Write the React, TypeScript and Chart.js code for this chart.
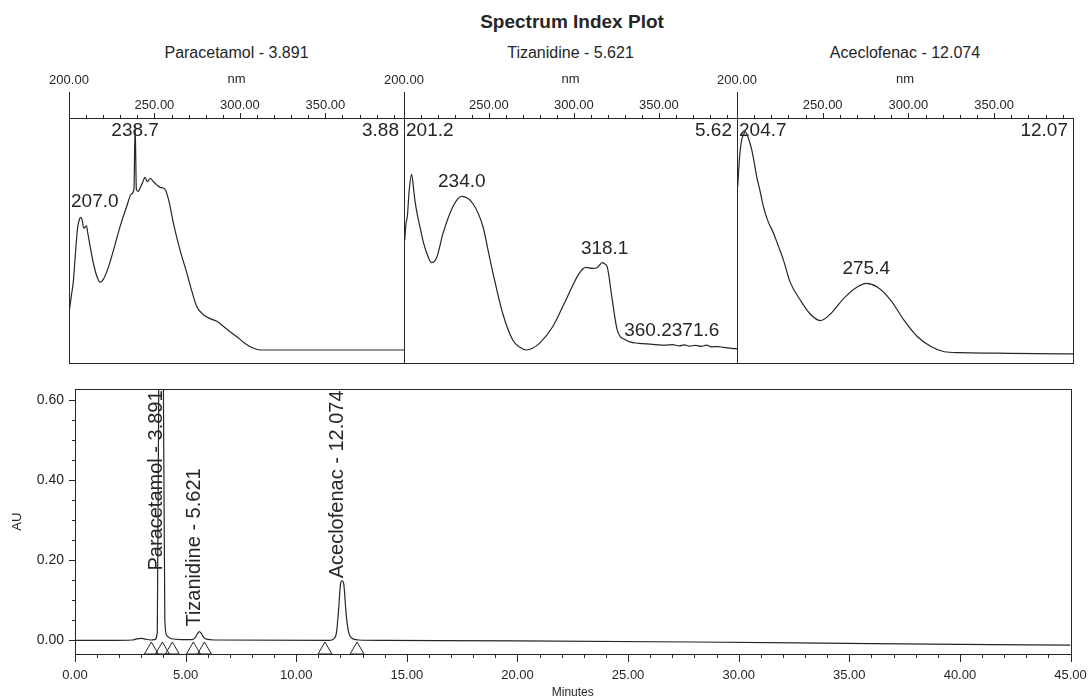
import React, { useEffect, useRef } from 'react';
import { Chart, registerables } from 'chart.js';

Chart.register(...registerables);

const INK = '#262626';
const FONT = '"Liberation Sans", Arial, Helvetica, sans-serif';
Chart.defaults.font.family = FONT;
Chart.defaults.color = INK;

// ---------------- Spectrum data (nm, relative absorbance) ----------------
const paraNm = [200.3, 201.5, 202.5, 203.8, 205.0, 206.3, 207.0, 207.8, 208.6, 209.4, 210.2, 211.0, 212.5, 214.5, 216.5, 218.2, 220.0, 222.5, 226.0, 230.0, 233.8, 236.5, 238.0, 238.7, 239.4, 240.3, 242.0, 243.5, 244.5, 245.9, 247.5, 249.4, 251.4, 253.3, 256.2, 258.5, 261.1, 265.0, 269.0, 272.0, 274.8, 279.0, 283.0, 286.5, 292.0, 298.2, 303.0, 308.0, 312.0, 396.0];
const paraAbs = [0.22, 0.28, 0.33, 0.45, 0.55, 0.59, 0.595, 0.58, 0.55, 0.555, 0.56, 0.53, 0.47, 0.40, 0.35, 0.33, 0.34, 0.38, 0.46, 0.56, 0.64, 0.69, 0.71, 0.97, 0.71, 0.70, 0.72, 0.745, 0.758, 0.74, 0.754, 0.74, 0.727, 0.717, 0.709, 0.66, 0.57, 0.46, 0.366, 0.29, 0.23, 0.195, 0.18, 0.17, 0.14, 0.107, 0.08, 0.06, 0.053, 0.053];
const paraPeaks = [207.0, 238.7];

const tizNm = [200.4, 201.2, 202.0, 203.0, 204.5, 205.5, 206.4, 208.0, 209.4, 211.5, 213.3, 216.2, 219.2, 223.0, 228.9, 234.0, 240.6, 246.5, 249.5, 252.4, 258.2, 264.0, 268.0, 271.9, 275.5, 279.7, 287.5, 295.3, 303.1, 307.0, 310.9, 313.8, 316.8, 318.1, 319.7, 322.6, 325.5, 330.5, 338.3, 345.0, 353.9, 358.0, 362.0, 365.0, 368.0, 371.6, 375.0, 378.0, 381.0, 385.0, 388.0, 392.9, 396.0];
const tizAbs = [0.50, 0.57, 0.60, 0.70, 0.77, 0.72, 0.665, 0.60, 0.556, 0.49, 0.45, 0.41, 0.43, 0.53, 0.64, 0.68, 0.65, 0.556, 0.46, 0.366, 0.20, 0.094, 0.065, 0.053, 0.06, 0.08, 0.148, 0.257, 0.366, 0.39, 0.386, 0.39, 0.41, 0.405, 0.39, 0.257, 0.135, 0.094, 0.08, 0.077, 0.073, 0.075, 0.07, 0.074, 0.069, 0.072, 0.068, 0.073, 0.066, 0.067, 0.064, 0.06, 0.058];
const tizPeaks = [201.2, 234.0, 318.1, 360.2, 371.6];

const aceNm = [200.4, 201.5, 202.7, 204.0, 204.7, 205.7, 207.0, 208.6, 210.0, 211.5, 213.5, 215.4, 218.0, 221.3, 224.0, 227.1, 231.0, 236.9, 242.7, 248.6, 254.5, 262.3, 270.1, 275.4, 281.8, 289.6, 297.4, 305.3, 313.1, 320.9, 330.0, 352.0, 375.0, 396.0];
const aceAbs = [0.72, 0.84, 0.91, 0.935, 0.945, 0.935, 0.91, 0.87, 0.82, 0.76, 0.70, 0.638, 0.58, 0.53, 0.48, 0.42, 0.33, 0.257, 0.20, 0.173, 0.20, 0.264, 0.31, 0.325, 0.31, 0.257, 0.175, 0.107, 0.067, 0.046, 0.042, 0.04, 0.038, 0.037];
const acePeaks = [204.7, 275.4];

const compounds = ['Paracetamol', 'Tizanidine', 'Aceclofenac'];
const retentionTimes = [3.891, 5.621, 12.074];
const spectrumTimeLabels = ['3.88', '5.62', '12.07'];

const nmTicks = [200, 210, 220, 230, 240, 250, 260, 270, 280, 290, 300, 310, 320, 330, 340, 350, 360, 370, 380, 390];

// ---------------- Chromatogram data (minutes, AU) ----------------
const chromTimes = [0, 1.5, 2.6, 2.8, 3.0, 3.2, 3.4, 3.6, 3.72, 3.8, 3.891, 3.98, 4.06, 4.15, 4.35, 4.8, 5.3, 5.45, 5.55, 5.621, 5.7, 5.8, 5.95, 6.3, 11.5, 11.7, 11.82, 11.92, 12.0, 12.074, 12.15, 12.25, 12.35, 12.5, 12.8, 14, 20, 28, 36, 45];
const chromAU = [0, 0, 0.001, 0.004, 0.005, 0.003, 0.001, 0.002, 0.02, 0.8, 1.0, 0.8, 0.05, 0.012, 0.004, 0.002, 0.002, 0.008, 0.018, 0.022, 0.018, 0.009, 0.003, 0.001, 0, 0.004, 0.02, 0.08, 0.14, 0.149, 0.14, 0.07, 0.025, 0.006, 0.001, 0, -0.001, -0.004, -0.008, -0.012];
const markerTimes = [3.45, 3.95, 4.4, 5.35, 5.85, 11.3, 12.75];
const markerAU = [-0.024, -0.024, -0.024, -0.024, -0.024, -0.024, -0.024];

const minuteTicks = Array.from({ length: 46 }, (_, i) => i);
const auTicks = [0, 0.05, 0.1, 0.15, 0.2, 0.25, 0.3, 0.35, 0.4, 0.45, 0.5, 0.55, 0.6];

function interp(xs: number[], ys: number[], v: number) {
  if (v <= xs[0]) return ys[0];
  for (let i = 1; i < xs.length; i++) {
    if (v <= xs[i]) {
      const t = (v - xs[i - 1]) / (xs[i] - xs[i - 1]);
      return ys[i - 1] + t * (ys[i] - ys[i - 1]);
    }
  }
  return ys[ys.length - 1];
}

type PanelProps = { left: number; right: number; nm: number[]; abs: number[]; peaks: number[]; timeLabel: string };

function SpectrumPanel({ left, right, nm, abs, peaks, timeLabel }: PanelProps) {
  const ref = useRef<HTMLCanvasElement>(null);
  const PAD = 30;
  const TOP = 62;
  const BOTTOM = 363;
  const width = right - left + 2 * PAD;
  const height = BOTTOM - TOP + 4;

  useEffect(() => {
    const decor = {
      id: 'specDecor',
      afterDraw(chart: any) {
        const { ctx, chartArea: a, scales } = chart;
        const x = scales.x;
        const y = scales.y;
        ctx.save();
        ctx.strokeStyle = INK;
        ctx.lineWidth = 1;
        ctx.strokeRect(Math.round(a.left) + 0.5, Math.round(a.top) + 0.5, Math.round(a.right - a.left), Math.round(a.bottom - a.top));
        // tick marks
        x.ticks.forEach((t: any) => {
          const px = Math.round(x.getPixelForValue(t.value)) + 0.5;
          const len = t.value === 200 ? 26 : t.value % 50 === 0 ? 5 : 3;
          ctx.beginPath();
          ctx.moveTo(px, a.top);
          ctx.lineTo(px, a.top - len);
          ctx.stroke();
        });
        // peak labels
        ctx.font = `19px ${FONT}`;
        ctx.fillStyle = INK;
        ctx.textBaseline = 'middle';
        ctx.textAlign = 'left';
        const items = peaks.map((p) => {
          const text = p.toFixed(1);
          const w = ctx.measureText(text).width;
          const px = x.getPixelForValue(p);
          const py = y.getPixelForValue(interp(nm, abs, p));
          let cy = py - 15;
          if (p - x.min < 3 || cy < a.top + 13) cy = a.top + 13;
          let l = px - w / 2;
          l = Math.max(a.left + 2, Math.min(l, a.right - 3 - w));
          return { text, w, l, cy };
        });
        for (let i = items.length - 2; i >= 0; i--) {
          const cur = items[i];
          const nxt = items[i + 1];
          if (Math.abs(cur.cy - nxt.cy) < 14 && cur.l + cur.w > nxt.l) cur.l = nxt.l - cur.w;
        }
        items.forEach((it) => ctx.fillText(it.text, it.l, it.cy));
        ctx.textAlign = 'right';
        ctx.fillText(timeLabel, a.right - 5, a.top + 13);
        ctx.restore();
      },
    };

    const chart = new Chart(ref.current as HTMLCanvasElement, {
      type: 'line',
      data: {
        datasets: [
          {
            data: nm.map((v, i) => ({ x: v, y: abs[i] })),
            borderColor: INK,
            borderWidth: 1.2,
            pointRadius: 0,
            cubicInterpolationMode: 'monotone',
            fill: false,
          },
        ],
      },
      options: {
        responsive: false,
        animation: false,
        events: [],
        layout: { padding: { left: PAD, right: PAD, top: 0, bottom: 4 } },
        plugins: { legend: { display: false }, tooltip: { enabled: false } },
        scales: {
          x: {
            type: 'linear',
            position: 'top',
            min: 200,
            max: 396,
            grid: { display: false, drawTicks: false },
            border: { display: false },
            afterBuildTicks: (s: any) => {
              s.ticks = nmTicks.map((v) => ({ value: v }));
            },
            afterFit: (s: any) => {
              s.height = 56;
            },
            ticks: {
              padding: 0,
              autoSkip: false,
              maxRotation: 0,
              color: INK,
              font: { size: 13, lineHeight: 25 / 13 },
              callback: (v: any) => {
                const n = Number(v);
                if (n === 200) return ['200.00', ''];
                if (n % 50 === 0) return n.toFixed(2);
                return '';
              },
            },
            title: { display: true, text: 'nm', color: INK, font: { size: 13 }, padding: { top: 9.6, bottom: 0 } },
          },
          y: { display: false, min: 0, max: 1 },
        },
      } as any,
      plugins: [decor],
    });
    return () => chart.destroy();
  }, []);

  return (
    <canvas
      ref={ref}
      width={width}
      height={height}
      style={{ position: 'absolute', left: left - PAD, top: TOP, width, height }}
    />
  );
}

function Chromatogram() {
  const ref = useRef<HTMLCanvasElement>(null);
  const W = 1100;
  const H = 330;
  useEffect(() => {
    const decor = {
      id: 'chromDecor',
      afterDraw(chart: any) {
        const { ctx, chartArea: a, scales } = chart;
        const x = scales.x;
        const y = scales.y;
        ctx.save();
        ctx.strokeStyle = INK;
        ctx.lineWidth = 1;
        ctx.strokeRect(Math.round(a.left) + 0.5, Math.round(a.top) + 0.5, Math.round(a.right - a.left), Math.round(a.bottom - a.top));
        x.ticks.forEach((t: any) => {
          const px = Math.round(x.getPixelForValue(t.value)) + 0.5;
          const len = t.value % 5 === 0 ? 8 : 4;
          ctx.beginPath();
          ctx.moveTo(px, a.bottom);
          ctx.lineTo(px, a.bottom + len);
          ctx.stroke();
        });
        y.ticks.forEach((t: any) => {
          const py = Math.round(y.getPixelForValue(t.value)) + 0.5;
          const major = Math.abs(t.value / 0.2 - Math.round(t.value / 0.2)) < 1e-6;
          const len = major ? 6 : 3;
          ctx.beginPath();
          ctx.moveTo(a.left, py);
          ctx.lineTo(a.left - len, py);
          ctx.stroke();
        });
        // rotated peak labels
        ctx.font = `20px ${FONT}`;
        ctx.fillStyle = INK;
        retentionTimes.forEach((t, i) => {
          const text = `${compounds[i]} - ${t.toFixed(3)}`;
          const w = ctx.measureText(text).width;
          const px = x.getPixelForValue(t);
          const apex = Math.max(a.top, y.getPixelForValue(interp(chromTimes, chromAU, t)));
          let start = apex - 5;
          if (start - w < a.top + 1) start = a.top + 1 + w;
          ctx.save();
          ctx.translate(px - 5, start);
          ctx.rotate(-Math.PI / 2);
          ctx.textAlign = 'left';
          ctx.textBaseline = 'middle';
          ctx.fillText(text, 0, 0);
          ctx.restore();
        });
        ctx.restore();
      },
    };

    const chart = new Chart(ref.current as HTMLCanvasElement, {
      type: 'line',
      data: {
        datasets: [
          {
            data: chromTimes.map((t, i) => ({ x: t, y: chromAU[i] })),
            borderColor: INK,
            borderWidth: 1.2,
            pointRadius: 0,
            cubicInterpolationMode: 'monotone',
            fill: false,
          },
          {
            data: markerTimes.map((t, i) => ({ x: t, y: markerAU[i] })),
            showLine: false,
            pointStyle: 'triangle',
            pointRadius: 8,
            borderColor: INK,
            borderWidth: 1,
            backgroundColor: 'rgba(0,0,0,0)',
          },
        ],
      },
      options: {
        responsive: false,
        animation: false,
        events: [],
        layout: { padding: { left: 0, right: 27, top: 14, bottom: 0 } },
        plugins: { legend: { display: false }, tooltip: { enabled: false } },
        scales: {
          x: {
            type: 'linear',
            position: 'bottom',
            min: 0,
            max: 45,
            grid: { display: false, drawTicks: false },
            border: { display: false },
            afterBuildTicks: (s: any) => {
              s.ticks = minuteTicks.map((v) => ({ value: v }));
            },
            afterFit: (s: any) => {
              s.height = 46;
            },
            ticks: {
              padding: 13.2,
              autoSkip: false,
              maxRotation: 0,
              color: INK,
              font: { size: 13 },
              callback: (v: any) => (Number(v) % 5 === 0 ? Number(v).toFixed(2) : ''),
            },
            title: { display: true, text: 'Minutes', color: INK, font: { size: 12 }, padding: { top: 0, bottom: 0 } },
          },
          y: {
            type: 'linear',
            position: 'left',
            min: -0.034,
            max: 0.627,
            grid: { display: false, drawTicks: false },
            border: { display: false },
            afterBuildTicks: (s: any) => {
              s.ticks = auTicks.map((v) => ({ value: v }));
            },
            afterFit: (s: any) => {
              s.width = 75;
            },
            ticks: {
              padding: 11,
              autoSkip: false,
              color: INK,
              font: { size: 14 },
              callback: (v: any) => {
                const n = Number(v);
                return Math.abs(n / 0.2 - Math.round(n / 0.2)) < 1e-6 ? n.toFixed(2) : '';
              },
            },
            title: { display: true, text: 'AU', color: INK, font: { size: 13 }, padding: { top: 10, bottom: 0 } },
          },
        },
      } as any,
      plugins: [decor],
    });
    return () => chart.destroy();
  }, []);
  return <canvas ref={ref} width={W} height={H} style={{ position: 'absolute', left: 0, top: 370, width: W, height: H }} />;
}

const panelEdges = [69, 404, 737, 1073];

export default function App() {
  const spectra = [
    { nm: paraNm, abs: paraAbs, peaks: paraPeaks },
    { nm: tizNm, abs: tizAbs, peaks: tizPeaks },
    { nm: aceNm, abs: aceAbs, peaks: acePeaks },
  ];
  return (
    <div
      style={{
        position: 'absolute',
        left: 0,
        top: 0,
        width: 1088,
        height: 700,
        overflow: 'hidden',
        background: '#fff',
        fontFamily: FONT,
        color: INK,
      }}
    >
      <div
        style={{
          position: 'absolute',
          left: 372,
          top: 11,
          width: 400,
          height: 22,
          lineHeight: '22px',
          fontSize: 19,
          fontWeight: 'bold',
          textAlign: 'center',
        }}
      >
        Spectrum Index Plot
      </div>
      {compounds.map((c, i) => {
        const cx = (panelEdges[i] + panelEdges[i + 1]) / 2;
        return (
          <div
            key={c}
            style={{
              position: 'absolute',
              left: cx - 150,
              top: 43,
              width: 300,
              height: 20,
              lineHeight: '20px',
              fontSize: 16,
              textAlign: 'center',
            }}
          >
            {`${c} - ${retentionTimes[i].toFixed(3)}`}
          </div>
        );
      })}
      {spectra.map((s, i) => (
        <SpectrumPanel
          key={i}
          left={panelEdges[i]}
          right={panelEdges[i + 1]}
          nm={s.nm}
          abs={s.abs}
          peaks={s.peaks}
          timeLabel={spectrumTimeLabels[i]}
        />
      ))}
      <Chromatogram />
    </div>
  );
}
